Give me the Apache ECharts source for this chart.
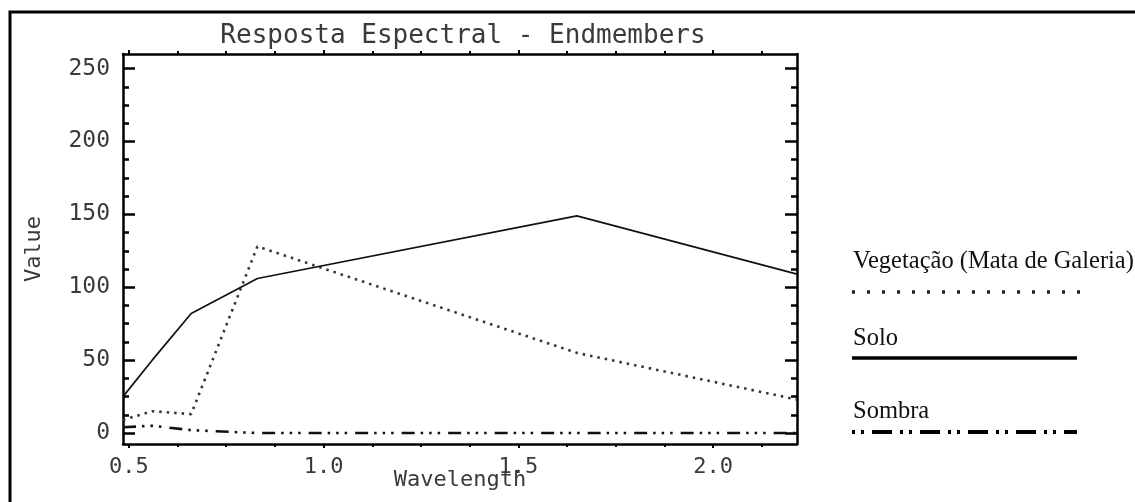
<!DOCTYPE html>
<html>
<head>
<meta charset="utf-8">
<script src="https://cdn.jsdelivr.net/npm/echarts@6/dist/echarts.min.js"></script>
<style>
html,body{margin:0;padding:0;background:#fff;}
#chart{width:1135px;height:502px;}
</style>
</head>
<body>
<div id="chart"></div>
<script>
// Landsat TM band centres (um)
var wavelengths = [0.485, 0.56, 0.66, 0.83, 1.65, 2.215];
var vegetacao = [9, 15, 13, 128, 55, 23];
var solo = [25, 50, 82, 106, 149, 109];
var sombra = [4, 5, 2, 0, 0, 0];

var xTicks = [0.5, 1.0, 1.5, 2.0];
var xMinorTicks = [0.625, 0.75, 0.875, 1.125, 1.25, 1.375, 1.625, 1.75, 1.875, 2.125];
var yTicks = [0, 50, 100, 150, 200, 250];
var yMinorTicks = [12.5, 25, 37.5, 62.5, 75, 87.5, 112.5, 125, 137.5, 162.5, 175, 187.5, 212.5, 225, 237.5];

var monoFont = 'DejaVu Sans Mono';
var textGray = '#3a3a3a';

function pts(ys){
	return wavelengths.map(function(x, i){ return [x, ys[i]]; });
}

function xAx(pos, ticks, len, withLine, withLabel){
	return {
		type: 'value',
		position: pos,
		min: 0.485,
		max: 2.215,
		splitLine: {show: false},
		axisLine: {show: withLine, onZero: false, lineStyle: {color: '#000', width: 2.5}},
		axisTick: {show: true, inside: false, length: len, customValues: ticks, lineStyle: {color: '#000', width: 2}},
		axisLabel: withLabel ? {
			show: true,
			customValues: ticks,
			margin: 12,
			formatter: function(v){ return v.toFixed(1); },
			fontFamily: monoFont,
			fontSize: 22,
			color: textGray
		} : {show: false}
	};
}

function yAx(pos, ticks, len, withLine, withLabel){
	return {
		type: 'value',
		position: pos,
		min: -7.5,
		max: 260,
		splitLine: {show: false},
		axisLine: {show: withLine, onZero: false, lineStyle: {color: '#000', width: 2.5}},
		axisTick: {show: true, inside: true, length: len, customValues: ticks, lineStyle: {color: '#000', width: 2.5}},
		axisLabel: withLabel ? {
			show: true,
			customValues: ticks,
			margin: 13,
			fontFamily: monoFont,
			fontSize: 23,
			color: textGray
		} : {show: false}
	};
}

var xMain = xAx('bottom', xTicks, 4, true, true);
xMain.name = 'Wavelength';
xMain.nameLocation = 'middle';
xMain.nameGap = 25;
xMain.nameMoveOverlap = false;
xMain.nameTextStyle = {fontFamily: monoFont, fontSize: 22, color: textGray};

var yMain = yAx('left', yTicks, 12, true, true);
yMain.name = 'Value';
yMain.nameLocation = 'middle';
yMain.nameRotate = 90;
yMain.nameGap = 78;
yMain.nameMoveOverlap = false;
yMain.nameTextStyle = {fontFamily: monoFont, fontSize: 22, color: textGray};

var legendX = 852;

var myChart = echarts.init(document.getElementById('chart'), null, {renderer: 'canvas'});
myChart.setOption({
	animation: false,
	backgroundColor: '#fff',
	title: {
		text: 'Resposta Espectral - Endmembers',
		left: 458,
		top: 18,
		textAlign: 'center',
		textStyle: {fontFamily: monoFont, fontSize: 26, fontWeight: 'normal', color: textGray}
	},
	grid: {left: 123, right: 338, top: 54, bottom: 58, containLabel: false, outerBoundsMode: 'none'},
	xAxis: [
		xMain,
		xAx('bottom', xMinorTicks, 3, false, false),
		xAx('top', xTicks, 4, true, false),
		xAx('top', xMinorTicks, 3, false, false)
	],
	yAxis: [
		yMain,
		yAx('left', yMinorTicks, 6, false, false),
		yAx('right', yTicks, 12, true, false),
		yAx('right', yMinorTicks, 6, false, false)
	],
	graphic: [
		{
			type: 'rect', z: 100, silent: true,
			shape: {x: 10, y: 12, width: 1300, height: 700},
			style: {fill: 'none', stroke: '#000', lineWidth: 3}
		},
		{
			type: 'text', left: 853, top: 249,
			style: {text: 'Vegetação (Mata de Galeria)', font: '24.5px "Liberation Serif"', fill: '#111'}
		},
		{
			type: 'line',
			shape: {x1: legendX, y1: 292, x2: 1083, y2: 292},
			style: {stroke: '#222', lineWidth: 3.5, lineDash: [3, 12]}
		},
		{
			type: 'text', left: 853, top: 326,
			style: {text: 'Solo', font: '24.5px "Liberation Serif"', fill: '#111'}
		},
		{
			type: 'line',
			shape: {x1: legendX, y1: 358, x2: 1077, y2: 358},
			style: {stroke: '#000', lineWidth: 3.5}
		},
		{
			type: 'text', left: 853, top: 399,
			style: {text: 'Sombra', font: '24.5px "Liberation Serif"', fill: '#111'}
		},
		{
			type: 'line',
			shape: {x1: legendX, y1: 432, x2: 1077, y2: 432},
			style: {stroke: '#000', lineWidth: 4, lineDash: [3, 6, 3, 8, 20, 8]}
		}
	],
	series: [
		{
			name: 'Vegetação (Mata de Galeria)',
			type: 'line',
			data: pts(vegetacao),
			showSymbol: false,
			lineStyle: {color: '#2e3840', width: 2.6, type: [2.5, 5]}
		},
		{
			name: 'Solo',
			type: 'line',
			data: pts(solo),
			showSymbol: false,
			lineStyle: {color: '#111', width: 1.7, type: 'solid'}
		},
		{
			name: 'Sombra',
			type: 'line',
			data: pts(sombra),
			showSymbol: false,
			lineStyle: {color: '#111', width: 2.6, type: [13, 6, 2.5, 6, 2.5, 6, 2.5, 8]}
		}
	]
});
</script>
</body>
</html>
